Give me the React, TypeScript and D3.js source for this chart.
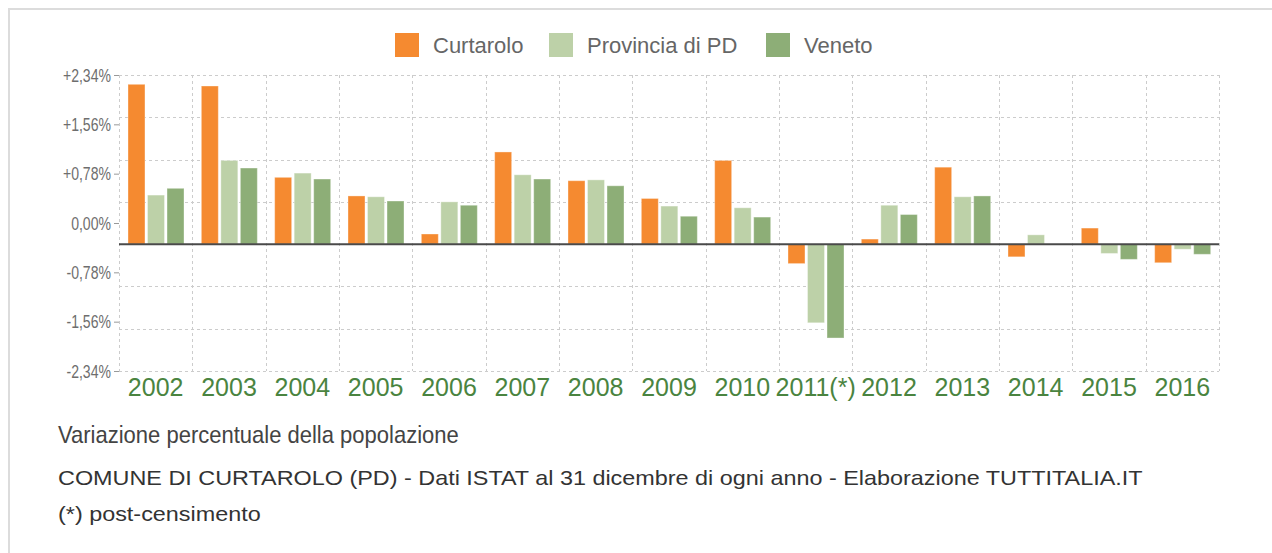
import React, { useEffect, useRef } from 'react';
import * as d3 from 'd3';

const years = ['2002', '2003', '2004', '2005', '2006', '2007', '2008', '2009', '2010', '2011(*)', '2012', '2013', '2014', '2015', '2016'];
const curtarolo = [1.89, 1.87, 0.79, 0.57, 0.12, 1.09, 0.75, 0.54, 0.99, -0.23, 0.06, 0.91, -0.15, 0.19, -0.22];
const provincia = [0.58, 0.99, 0.84, 0.56, 0.5, 0.82, 0.76, 0.45, 0.43, -0.93, 0.46, 0.56, 0.11, -0.11, -0.06];
const veneto = [0.66, 0.9, 0.77, 0.51, 0.46, 0.77, 0.69, 0.33, 0.32, -1.11, 0.35, 0.57, 0.0, -0.18, -0.12];
const seriesNames = ['Curtarolo', 'Provincia di PD', 'Veneto'];
const seriesColors = ['#f58a30', '#bdd1a8', '#8dae77'];
const tickLabels = ['+2,34%', '+1,56%', '+0,78%', '0,00%', '-0,78%', '-1,56%', '-2,34%'];

const W = 1272;
const H = 553;
const FONT = '"Liberation Sans", Arial, Helvetica, sans-serif';

const App: React.FC = () => {
  const ref = useRef<SVGSVGElement | null>(null);

  useEffect(() => {
    if (!ref.current) return;
    const svg = d3.select(ref.current);
    svg.selectAll('*').remove();

    const left = 119;
    const right = 1219;
    const top = 75;
    const bottom = 371;

    // frame
    svg.append('line').attr('x1', 8).attr('x2', W).attr('y1', 9).attr('y2', 9).attr('stroke', '#dcdcdc').attr('stroke-width', 2);
    svg.append('line').attr('x1', 9).attr('x2', 9).attr('y1', 9).attr('y2', H).attr('stroke', '#dcdcdc').attr('stroke-width', 2);

    const x = d3.scaleBand<string>().domain(years).range([left, right]).padding(0);
    const y = d3.scaleLinear().domain([-1.5, 2.0]).range([bottom, top]);
    const inner = d3.scaleBand<string>().domain(seriesNames).range([9, 65]).paddingInner(0.13).paddingOuter(0);

    const grid = svg.append('g');
    // horizontal grid
    grid
      .selectAll('line.h')
      .data(d3.range(-1.5, 2.01, 0.5))
      .enter()
      .append('line')
      .attr('x1', left)
      .attr('x2', right)
      .attr('y1', (d: number) => Math.round(y(d)) + 0.5)
      .attr('y2', (d: number) => Math.round(y(d)) + 0.5)
      .attr('stroke', '#cccccc')
      .attr('stroke-dasharray', '3,3');
    // vertical grid
    const bounds = years.map((yr) => x(yr) as number).concat([right]);
    grid
      .selectAll('line.v')
      .data(bounds)
      .enter()
      .append('line')
      .attr('x1', (d: number) => Math.round(d) + 0.5)
      .attr('x2', (d: number) => Math.round(d) + 0.5)
      .attr('y1', top)
      .attr('y2', bottom)
      .attr('stroke', '#cccccc')
      .attr('stroke-dasharray', '3,3');

    // bars
    const allSeries = [curtarolo, provincia, veneto];
    allSeries.forEach((vals, si) => {
      svg
        .append('g')
        .selectAll('rect')
        .data(vals)
        .enter()
        .append('rect')
        .attr('x', (_d: number, i: number) => (x(years[i]) as number) + (inner(seriesNames[si]) as number))
        .attr('width', inner.bandwidth())
        .attr('y', (d: number) => y(Math.max(0, d)))
        .attr('height', (d: number) => Math.abs(y(d) - y(0)))
        .attr('fill', seriesColors[si])
        .attr('stroke', 'rgba(255,255,255,0.35)')
        .attr('stroke-width', 1);
    });

    // zero line
    svg
      .append('line')
      .attr('x1', left)
      .attr('x2', right)
      .attr('y1', y(0))
      .attr('y2', y(0))
      .attr('stroke', '#4a4a4a')
      .attr('stroke-width', 2);

    // y tick labels (narrow, tall glyphs like the original)
    const ty = d3.scalePoint<string>().domain(tickLabels).range([top, bottom]);
    const yt = svg.append('g');
    yt.selectAll('line')
      .data(tickLabels)
      .enter()
      .append('line')
      .attr('x1', left - 5)
      .attr('x2', left)
      .attr('y1', (d: string) => (ty(d) as number) + 0.5)
      .attr('y2', (d: string) => (ty(d) as number) + 0.5)
      .attr('stroke', '#999');
    yt.selectAll('text')
      .data(tickLabels)
      .enter()
      .append('text')
      .attr('transform', (d: string) => `translate(${left - 8},${ty(d)}) scale(0.74,1)`)
      .attr('dy', '0.35em')
      .attr('text-anchor', 'end')
      .attr('font-family', FONT)
      .attr('font-size', 19)
      .attr('fill', '#6e6e6e')
      .text((d: string) => d);

    // x labels
    svg
      .append('g')
      .selectAll('text')
      .data(years)
      .enter()
      .append('text')
      .attr('x', (d: string) => (x(d) as number) + x.bandwidth() / 2)
      .attr('y', 396)
      .attr('text-anchor', 'middle')
      .attr('font-family', FONT)
      .attr('font-size', 25)
      .attr('fill', '#4a8440')
      .text((d: string) => d);

    // legend
    const legendX = [395, 549, 766];
    const lg = svg.append('g');
    seriesNames.forEach((name, i) => {
      lg.append('rect')
        .attr('x', legendX[i])
        .attr('y', 33)
        .attr('width', 24)
        .attr('height', 24)
        .attr('fill', seriesColors[i]);
      lg.append('text')
        .attr('x', legendX[i] + 38)
        .attr('y', 53)
        .attr('font-family', FONT)
        .attr('font-size', 22)
        .attr('fill', '#666')
        .text(name);
    });

    // titles
    svg.append('text').attr('transform', 'translate(58,443) scale(0.917,1)').attr('font-family', FONT).attr('font-size', 24).attr('fill', '#444')
      .text('Variazione percentuale della popolazione');
    svg.append('text').attr('transform', 'translate(58,485) scale(1.17,1)').attr('font-family', FONT).attr('font-size', 20).attr('fill', '#333')
      .text('COMUNE DI CURTAROLO (PD) - Dati ISTAT al 31 dicembre di ogni anno - Elaborazione TUTTITALIA.IT');
    svg.append('text').attr('transform', 'translate(58,521) scale(1.17,1)').attr('font-family', FONT).attr('font-size', 20).attr('fill', '#333')
      .text('(*) post-censimento');
  }, []);

  return (
    <svg
      ref={ref}
      width={W}
      height={H}
      style={{ position: 'absolute', left: 0, top: 0, background: '#fff' }}
    />
  );
};

export default App;
